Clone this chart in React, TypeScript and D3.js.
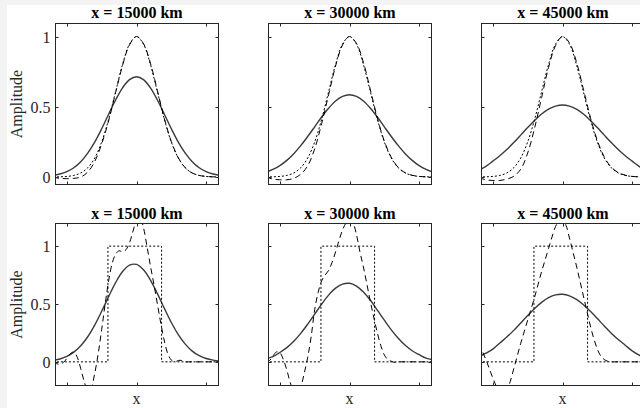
import React from "react";
import * as d3 from "d3";

// sample positions (normalised distance along the domain)
const xGrid = [
  -1.2, -1.1, -1.0, -0.9, -0.8, -0.7, -0.6, -0.5, -0.4, -0.3, -0.2, -0.1, 0,
  0.1, 0.2, 0.3, 0.4, 0.5, 0.6, 0.7, 0.8, 0.9, 1.0, 1.1, 1.2,
];
const xFine = [
  -1.2, -1.15, -1.1, -1.05, -1.0, -0.95, -0.9, -0.85, -0.8, -0.75, -0.7, -0.65,
  -0.6, -0.55, -0.5, -0.45, -0.4, -0.35, -0.3, -0.25, -0.2, -0.15, -0.1, -0.05,
  0, 0.05, 0.1, 0.15, 0.2, 0.25, 0.3, 0.35, 0.4, 0.45, 0.5, 0.55, 0.6, 0.65,
  0.7, 0.75, 0.8, 0.85, 0.9, 0.95, 1.0, 1.05, 1.1, 1.15, 1.2,
];

const titles = ["x = 15000 km", "x = 30000 km", "x = 45000 km"];
const yTicks = [0, 0.5, 1];
const yTickLabels = ["0", "0.5", "1"];
const xTicks = [-1, 0, 1];

// top row: gaussian pulse
const topExact = [
  0.0003, 0.0012, 0.0039, 0.0111, 0.0286, 0.0657, 0.135, 0.249, 0.411, 0.607,
  0.801, 0.946, 1, 0.946, 0.801, 0.607, 0.411, 0.249, 0.135, 0.0657, 0.0286,
  0.0111, 0.0039, 0.0012, 0.0003,
];
const topSolid15000 = [
  0.0105, 0.021, 0.038, 0.066, 0.109, 0.17, 0.248, 0.343, 0.447, 0.548, 0.635,
  0.693, 0.714, 0.693, 0.635, 0.548, 0.447, 0.343, 0.248, 0.17, 0.109, 0.066,
  0.038, 0.021, 0.0105,
];
const topSolid30000 = [
  0.034, 0.054, 0.081, 0.118, 0.166, 0.223, 0.288, 0.357, 0.427, 0.49, 0.541,
  0.574, 0.586, 0.574, 0.541, 0.49, 0.427, 0.357, 0.288, 0.223, 0.166, 0.118,
  0.081, 0.054, 0.034,
];
const topSolid45000 = [
  0.048, 0.076, 0.113, 0.151, 0.195, 0.245, 0.298, 0.352, 0.403, 0.448, 0.483,
  0.505, 0.513, 0.505, 0.483, 0.448, 0.403, 0.352, 0.298, 0.245, 0.195, 0.151,
  0.113, 0.076, 0.048,
];
const topDashed15000 = [
  0, -0.01, -0.012, -0.01, 0.0, 0.035, 0.11, 0.235, 0.4, 0.6, 0.795, 0.942, 1.0,
  0.95, 0.81, 0.615, 0.415, 0.252, 0.137, 0.066, 0.028, 0.011, 0.004, 0.001, 0,
];
const topDashed30000 = [
  0, -0.015, -0.02, -0.02, -0.01, 0.02, 0.08, 0.2, 0.38, 0.585, 0.79, 0.94, 1.0,
  0.952, 0.815, 0.62, 0.42, 0.256, 0.14, 0.068, 0.03, 0.012, 0.004, 0.001, 0,
];
const topDashed45000 = [
  -0.005, -0.02, -0.025, -0.025, -0.015, 0.005, 0.055, 0.17, 0.35, 0.565, 0.78,
  0.935, 1.0, 0.955, 0.82, 0.625, 0.425, 0.26, 0.143, 0.07, 0.032, 0.013, 0.004,
  0.001, 0,
];

// bottom row: square pulse
const squareX = [-1.2, -0.41, -0.41, 0.36, 0.36, 1.2];
const squareY = [0, 0, 1, 1, 0, 0];
const botSolid15000 = [
  0.013, 0.025, 0.047, 0.084, 0.139, 0.217, 0.318, 0.437, 0.564, 0.685, 0.781,
  0.836, 0.842, 0.796, 0.707, 0.59, 0.462, 0.34, 0.235, 0.153, 0.093, 0.053,
  0.029, 0.015, 0.007,
];
const botSolid30000 = [
  0.025, 0.045, 0.081, 0.123, 0.178, 0.246, 0.326, 0.412, 0.499, 0.577, 0.637,
  0.672, 0.679, 0.655, 0.603, 0.532, 0.447, 0.36, 0.277, 0.204, 0.143, 0.096,
  0.062, 0.032, 0.018,
];
const botSolid45000 = [
  0.045, 0.075, 0.11, 0.163, 0.214, 0.272, 0.336, 0.4, 0.461, 0.514, 0.555,
  0.579, 0.584, 0.571, 0.54, 0.494, 0.437, 0.374, 0.31, 0.248, 0.193, 0.144,
  0.095, 0.058, 0.03,
];
const botDashed15000 = [
  0.0, -0.015, -0.02, -0.005, 0.03, 0.07, 0.085, 0.04, -0.06, -0.17, -0.25,
  -0.22, -0.1, 0.07, 0.28, 0.5, 0.7, 0.85, 0.93, 0.96, 0.95, 0.97, 1.03, 1.13,
  1.22, 1.25, 1.16, 1.0, 0.83, 0.67, 0.5, 0.33, 0.18, 0.07, 0.015, 0.0, 0.012,
  0.012, 0, 0, 0, 0, 0, 0, 0, 0, 0, 0, 0,
];
const botDashed30000 = [
  0.0, 0.01, 0.05, 0.085, 0.08, 0.02, -0.07, -0.18, -0.26, -0.29, -0.22, -0.1,
  0.04, 0.22, 0.45, 0.6, 0.7, 0.75, 0.79, 0.86, 0.95, 1.05, 1.14, 1.2, 1.23,
  1.2, 1.1, 0.95, 0.82, 0.67, 0.52, 0.38, 0.25, 0.14, 0.06, 0.02, 0.005, -0.005,
  0, 0, 0, 0, 0, 0, 0, 0, 0, 0, 0,
];
const botDashed45000 = [
  0.16, 0.09, 0.02, -0.06, -0.14, -0.21, -0.26, -0.28, -0.25, -0.17, -0.06,
  0.05, 0.16, 0.26, 0.36, 0.46, 0.56, 0.67, 0.78, 0.88, 0.98, 1.08, 1.17, 1.22,
  1.23, 1.18, 1.07, 0.95, 0.83, 0.7, 0.57, 0.44, 0.31, 0.2, 0.11, 0.05, 0.02,
  0.005, 0, 0, 0, 0, 0, 0, 0, 0, 0, 0, 0,
];

const topSolids = [topSolid15000, topSolid30000, topSolid45000];
const topDasheds = [topDashed15000, topDashed30000, topDashed45000];
const botSolids = [botSolid15000, botSolid30000, botSolid45000];
const botDasheds = [botDashed15000, botDashed30000, botDashed45000];

const W = 640;
const H = 408;
const colLeft = [55, 268, 481];
const plotW = 163;
const rows = [
  { top: 22.5, bottom: 184, yDomain: [-0.05, 1.1], titleY: 18 },
  { top: 223, bottom: 385, yDomain: [-0.2, 1.2], titleY: 219 },
];
const ink = "#262626";
const font = "'Liberation Serif', 'Times New Roman', serif";

type Series = { xs: number[]; ys: number[]; kind: "solid" | "dashed" | "dotted" };

function Panel({ row, col }: { row: number; col: number }) {
  const r = rows[row];
  const left = colLeft[col];
  const x = d3.scaleLinear().domain([-1.17, 1.17]).range([left, left + plotW]);
  const y = d3.scaleLinear().domain(r.yDomain).range([r.bottom, r.top]);
  const smooth = d3
    .line<[number, number]>()
    .x((d) => x(d[0]))
    .y((d) => y(d[1]))
    .curve(d3.curveCatmullRom);
  const straight = d3
    .line<[number, number]>()
    .x((d) => x(d[0]))
    .y((d) => y(d[1]));

  const series: Series[] =
    row === 0
      ? [
          { xs: xGrid, ys: topSolids[col], kind: "solid" },
          { xs: xGrid, ys: topDasheds[col], kind: "dashed" },
          { xs: xGrid, ys: topExact, kind: "dotted" },
        ]
      : [
          { xs: xGrid, ys: botSolids[col], kind: "solid" },
          { xs: xFine, ys: botDasheds[col], kind: "dashed" },
          { xs: squareX, ys: squareY, kind: "dotted" },
        ];

  const clipId = `clip-${row}-${col}`;
  const L = Math.round(x.range()[0]) + 0.5;
  const R = Math.round(x.range()[1]) + 0.5;
  const T = Math.round(r.top) + 0.5;
  const B = Math.round(r.bottom) + 0.5;
  const tl = 3;

  return (
    <g>
      <defs>
        <clipPath id={clipId}>
          <rect x={L} y={T} width={R - L} height={B - T} />
        </clipPath>
      </defs>
      <g clipPath={`url(#${clipId})`}>
        {series.map((s, i) => {
          const pts = s.xs.map((v, j) => [v, s.ys[j]] as [number, number]);
          const d = s === series[2] && row === 1 ? straight(pts) : smooth(pts);
          return (
            <path
              key={i}
              d={d || ""}
              fill="none"
              stroke={s.kind === "solid" ? "#3a3a3a" : "#000"}
              strokeWidth={s.kind === "solid" ? 1.4 : 1}
              strokeDasharray={s.kind === "dashed" ? "6,4" : s.kind === "dotted" ? "2,2" : undefined}
            />
          );
        })}
      </g>
      <rect x={L} y={T} width={R - L} height={B - T} fill="none" stroke={ink} strokeWidth={1} />
      {xTicks.map((t) => {
        const px = Math.round(x(t)) + 0.5;
        return (
          <g key={`xt${t}`} stroke={ink} strokeWidth={1}>
            <line x1={px} x2={px} y1={B} y2={B - tl} />
            <line x1={px} x2={px} y1={T} y2={T + tl} />
          </g>
        );
      })}
      {yTicks.map((t, i) => {
        const py = Math.round(y(t)) + 0.5;
        return (
          <g key={`yt${t}`}>
            <line x1={L} x2={L + tl} y1={py} y2={py} stroke={ink} />
            <line x1={R} x2={R - tl} y1={py} y2={py} stroke={ink} />
            {col === 0 && (
              <text x={L - 5} y={py} dy="0.35em" textAnchor="end" fontSize={16} fill={ink} fontFamily={font}>
                {yTickLabels[i]}
              </text>
            )}
          </g>
        );
      })}
      <text
        x={(L + R) / 2}
        y={r.titleY}
        textAnchor="middle"
        fontSize={16}
        fontWeight="bold"
        fill="#000"
        fontFamily={font}
      >
        {titles[col]}
      </text>
      {col === 0 && (
        <text
          transform={`translate(22,${(T + B) / 2}) rotate(-90)`}
          textAnchor="middle"
          fontSize={16}
          fill={ink}
          fontFamily={font}
        >
          Amplitude
        </text>
      )}
      {row === 1 && (
        <text x={x(0)} y={404} textAnchor="middle" fontSize={16} fill={ink} fontFamily={font}>
          x
        </text>
      )}
    </g>
  );
}

export default function App() {
  return (
    <svg
      width={W}
      height={H}
      style={{ position: "absolute", left: 0, top: 0, display: "block" }}
    >
      <rect x={0} y={0} width={W} height={H} fill="#f3f3f3" />
      <rect x={7} y={5} width={W - 7} height={H - 5} fill="#fff" />
      {rows.map((_, ri) =>
        colLeft.map((_, ci) => <Panel key={`${ri}-${ci}`} row={ri} col={ci} />)
      )}
    </svg>
  );
}
